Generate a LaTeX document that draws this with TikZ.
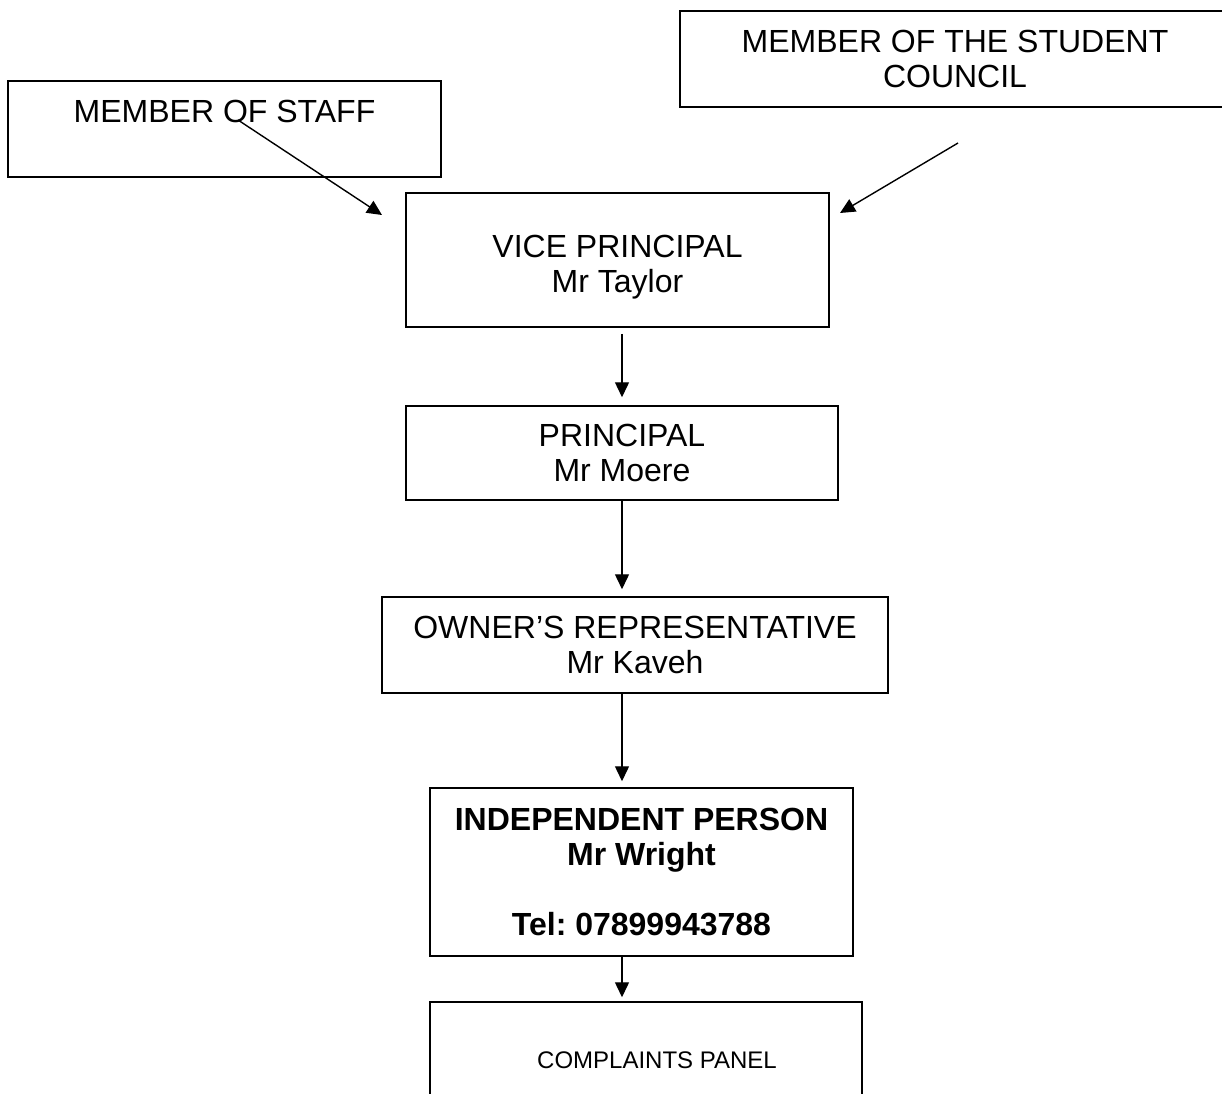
\documentclass[tikz,border=0pt]{standalone}
\usepackage{fontspec}
\setmainfont{Liberation Sans}
\usetikzlibrary{arrows.meta,positioning}
\frenchspacing
\tikzset{
	box/.style={
		rectangle,
		draw=black,
		line width=1.5pt,
		align=center,
		inner sep=0pt,
		font=\fontsize{32}{35}\selectfont,
	},
	link/.style={
		-{Triangle[length=15pt,width=14pt]},
		line width=1.4pt,
	},
}

\begin{document}
\begin{tikzpicture}[x=1pt, y=-1pt]
	\useasboundingbox (0,0) rectangle (1222,1093);
	\clip (0,0) rectangle (1222,1093);
	% nodes
	\node [box, minimum width=433, minimum height=96] (staff) at (224.5,129) {MEMBER OF STAFF\\ \mbox{}};
	\node [box, minimum width=550, minimum height=96] (council) at (955,59) {MEMBER OF THE STUDENT\\COUNCIL};
	\node [box, minimum width=423, minimum height=134] (vp) at (617.5,260) {\rule{0pt}{37pt}VICE PRINCIPAL\\Mr Taylor};
	\node [box, minimum width=432, minimum height=94] (princ) at (622,453) {PRINCIPAL\\Mr Moere};
	\node [box, minimum width=506, minimum height=96] (owner) at (635,645) {OWNER’S REPRESENTATIVE\\Mr Kaveh};
	\node [box, minimum width=423, minimum height=168, font=\fontsize{32}{35}\selectfont\bfseries] (indep) at (641.5,872) {INDEPENDENT PERSON\\Mr Wright\\[35pt]Tel: 07899943788};
	\node [box, minimum width=432, minimum height=116, font=\fontsize{24}{28}\selectfont] (panel) at (646,1060) {\hspace{22pt}COMPLAINTS PANEL};
	\coordinate (staff-tail) at (238,120);
	\coordinate (council-tail) at (958,143);
	\coordinate (vp-left) at (382,215);
	\coordinate (vp-right) at (840,213);

	% arcs
	\draw [link] (staff-tail) -- (vp-left);
	\draw [link] (council-tail) -- (vp-right);
	\draw [link, shorten <=6pt, shorten >=8pt] (vp.south -| princ) -- (princ.north);
	\draw [link, shorten >=7pt] (princ.south) -- (owner.north -| princ);
	\draw [link, shorten >=6pt] (owner.south -| princ) -- (indep.north -| princ);
	\draw [link, shorten >=4pt] (indep.south -| princ) -- (panel.north -| princ);
\end{tikzpicture}
\end{document}
